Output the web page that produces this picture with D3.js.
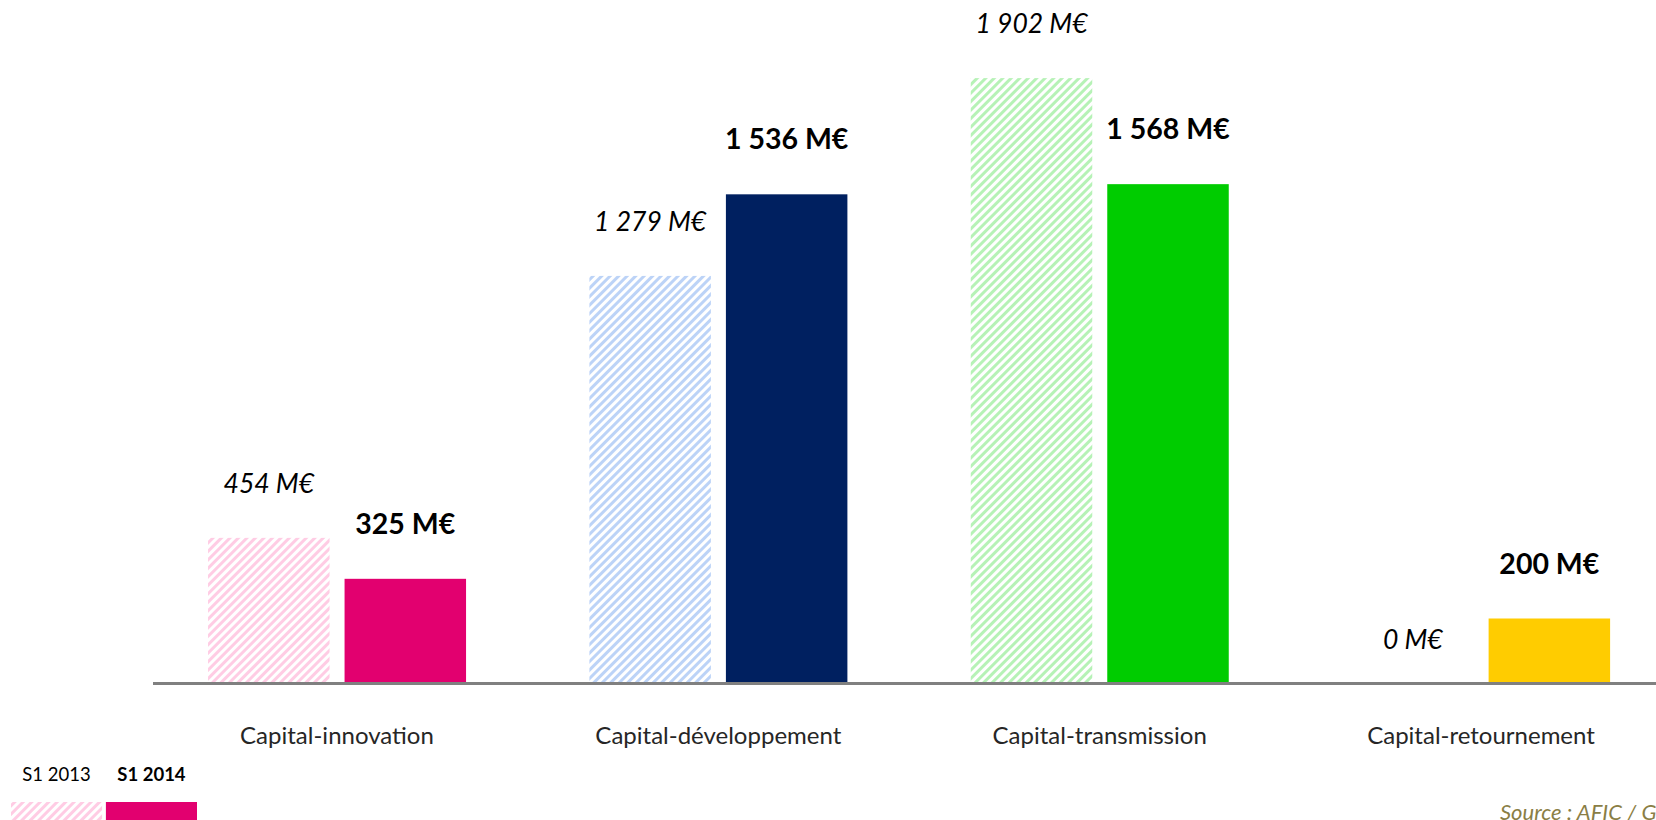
<!DOCTYPE html>
<html>
<head>
<meta charset="utf-8">
<script src="https://cdn.jsdelivr.net/npm/d3@7"></script>
<style>
  html, body { margin: 0; padding: 0; background: #fff; overflow: hidden; }
  svg { display: block; font-family: Lato, "Open Sans", sans-serif; }
</style>
</head>
<body>
<svg id="chart" width="1656" height="820"></svg>
<script>
// ---- data ----
const categories = ["Capital-innovation", "Capital-développement", "Capital-transmission", "Capital-retournement"];
const seriesNames = ["S1 2013", "S1 2014"];
const values2013 = [454, 1279, 1902, 0];
const values2014 = [325, 1536, 1568, 200];
const sourceText = "Source : AFIC / Grant Thornton";

// ---- palette ----
const solidColors = ["#E2006F", "#002060", "#00CC00", "#FFCC00"];
const hatchColors = ["#FFCCE4", "#BCD3F7", "#B6F2B6", "#FFE699"];

const W = 1656, H = 820;
const svg = d3.select("#chart");
const defs = svg.append("defs");

hatchColors.forEach((c, i) => {
  const p = defs.append("pattern")
    .attr("id", "hatch" + i)
    .attr("patternUnits", "userSpaceOnUse")
    .attr("width", 6).attr("height", 6)
    .attr("patternTransform", "rotate(45)");
  p.append("rect").attr("width", 6).attr("height", 6).attr("fill", "#fff");
  p.append("rect").attr("x", 0).attr("width", 3).attr("height", 6).attr("fill", c);
});

const x0 = d3.scaleBand().domain(categories).range([146.3, 1671.7]).padding(0);
const x1 = d3.scaleBand().domain(seriesNames).range([61.75, 319.75]).paddingInner(0.11).paddingOuter(0);
const y = d3.scaleLinear().domain([0, 2000]).range([682, 47]);

const loc = d3.formatLocale({ decimal: ",", thousands: " ", grouping: [3], currency: ["", "€"] });
const fmt = v => loc.format(",")(v) + " M€";

const rows = categories.map((c, i) => ({ cat: c, i, vals: [values2013[i], values2014[i]] }));

const g = svg.append("g");
const groups = g.selectAll("g.grp").data(rows).join("g")
  .attr("class", "grp")
  .attr("transform", d => `translate(${x0(d.cat)},0)`);

groups.selectAll("rect.bar")
  .data(d => d.vals.map((v, k) => ({ v, k, i: d.i, s: seriesNames[k] })))
  .join("rect")
  .attr("class", "bar")
  .attr("x", d => x1(d.s))
  .attr("width", x1.bandwidth())
  .attr("y", d => y(d.v))
  .attr("height", d => y(0) - y(d.v))
  .attr("fill", d => d.k === 0 ? `url(#hatch${d.i})` : solidColors[d.i]);

groups.selectAll("text.val")
  .data(d => d.vals.map((v, k) => ({ v, k, i: d.i, s: seriesNames[k] })))
  .join("text")
  .attr("class", "val")
  .attr("x", d => x1(d.s) + x1.bandwidth() / 2)
  .attr("y", d => d.v === 0 ? y(0) - 33 : y(d.v) - 45)
  .attr("text-anchor", "middle")
  .attr("font-size", d => d.k === 0 ? 26.5 : 28.5)
  .attr("font-style", d => d.k === 0 ? "italic" : "normal")
  .attr("font-weight", d => d.k === 0 ? "normal" : "bold")
  .attr("fill", "#000")
  .text(d => fmt(d.v));

// axis
const axis = svg.append("g")
  .attr("transform", `translate(0,${y(0)})`)
  .call(d3.axisBottom(x0).tickSize(0).tickPadding(62));
axis.select(".domain").remove();
axis.selectAll(".tick text")
  .attr("font-family", "Lato, 'Open Sans', sans-serif")
  .attr("font-size", 24)
  .attr("fill", "#262626")
  .attr("dy", 0);
axis.append("line")
  .attr("x1", 153).attr("x2", W)
  .attr("y1", 1.5).attr("y2", 1.5)
  .attr("stroke", "#808080").attr("stroke-width", 3);

// legend
const lg = svg.append("g");
const legendX = d3.scaleBand().domain(seriesNames).range([11, 197]).paddingInner(0.04).paddingOuter(0);
lg.selectAll("rect").data(seriesNames).join("rect")
  .attr("x", d => legendX(d))
  .attr("y", 802)
  .attr("width", legendX.bandwidth())
  .attr("height", 30)
  .attr("fill", (d, k) => k === 0 ? "url(#hatch0)" : solidColors[0]);
lg.selectAll("text").data(seriesNames).join("text")
  .attr("x", d => legendX(d) + legendX.bandwidth() / 2)
  .attr("y", 781)
  .attr("text-anchor", "middle")
  .attr("font-size", 18.5)
  .attr("font-weight", (d, k) => k === 0 ? "normal" : "bold")
  .attr("fill", "#000")
  .text(d => d);

// source (cut by the right edge, as in the reference)
svg.append("text")
  .attr("x", 1500).attr("y", 820)
  .attr("font-size", 22)
  .attr("font-style", "italic")
  .attr("fill", "#8A7E45")
  .text(sourceText);
</script>
</body>
</html>
